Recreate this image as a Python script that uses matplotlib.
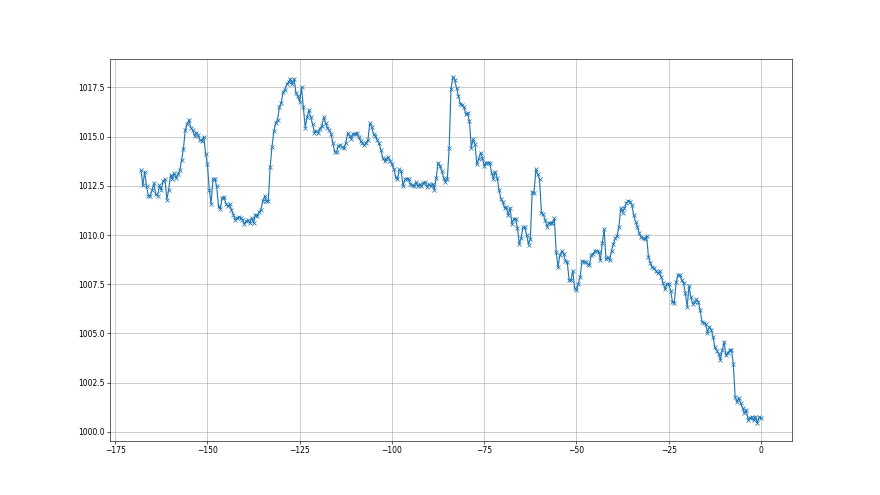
import numpy as np
import matplotlib
matplotlib.use("Agg")
import matplotlib.pyplot as plt

# hours relative to now, half-hour readings over the last week
hours = np.arange(-168, 0.5, 0.5)

pressure = [
    # -168.0 .. -140.5
    1013.28, 1012.52, 1013.20, 1012.48, 1012.00, 1012.00, 1012.28, 1012.62,
    1012.06, 1012.00, 1012.52, 1012.30, 1012.74, 1012.82, 1011.80, 1012.30,
    1013.03, 1012.86, 1013.13, 1012.90, 1013.08, 1013.28, 1013.80, 1014.39,
    1015.34, 1015.63, 1015.85, 1015.46, 1015.34, 1015.03, 1015.20, 1015.07,
    1014.81, 1014.78, 1015.00, 1014.13, 1013.59, 1012.31, 1011.58, 1012.82,
    1012.87, 1012.48, 1011.46, 1011.34, 1011.89, 1011.94, 1011.60, 1011.46,
    1011.55, 1011.29, 1011.04, 1010.78, 1010.87, 1010.92, 1010.87, 1010.78,
    # -140.0 .. -113.5
    1010.58, 1010.70, 1010.75, 1010.61, 1010.87, 1010.61, 1011.04, 1010.95,
    1011.16, 1011.29, 1011.72, 1011.97, 1011.72, 1011.72, 1013.47, 1014.49,
    1015.27, 1015.71, 1015.85, 1016.48, 1016.73, 1017.24, 1017.38, 1017.67,
    1017.76, 1017.93, 1017.67, 1017.93, 1017.21, 1017.04, 1016.77, 1017.50,
    1016.48, 1015.46, 1015.97, 1016.36, 1015.97, 1015.63, 1015.20, 1015.29,
    1015.17, 1015.41, 1015.54, 1015.97, 1015.71, 1015.46, 1015.34, 1015.12,
    1014.66, 1014.22, 1014.22, 1014.52, 1014.56, 1014.47,
    # -113.0 .. -86.5
    1014.40, 1014.69, 1015.17, 1015.03, 1014.90, 1015.15, 1015.12, 1015.20,
    1014.98, 1014.78, 1014.66, 1014.56, 1014.69, 1014.83, 1015.68, 1015.51,
    1015.12, 1015.03, 1014.83, 1014.66, 1014.32, 1013.93, 1013.76, 1013.88,
    1013.96, 1013.76, 1013.59, 1013.37, 1012.96, 1012.82, 1013.33, 1013.25,
    1012.48, 1012.82, 1012.87, 1012.86, 1012.57, 1012.52, 1012.48, 1012.69,
    1012.48, 1012.57, 1012.48, 1012.65, 1012.69, 1012.45, 1012.57, 1012.48,
    1012.61, 1012.31, 1012.91, 1013.67, 1013.50, 1013.25,
    # -86.0 .. -59.5
    1012.91, 1012.70, 1012.82, 1014.40, 1017.41, 1018.04, 1017.87, 1017.47,
    1017.07, 1016.68, 1016.62, 1016.51, 1016.14, 1016.22, 1015.77, 1014.44,
    1014.86, 1014.61, 1013.59, 1013.88, 1014.18, 1013.93, 1013.50, 1013.67,
    1013.67, 1013.67, 1013.16, 1012.87, 1013.21, 1012.91, 1012.31, 1011.85,
    1011.68, 1011.38, 1011.41, 1011.00, 1011.38, 1010.56, 1010.83, 1010.83,
    1010.36, 1009.54, 1009.85, 1010.39, 1010.39, 1010.02, 1009.51, 1009.81,
    1012.19, 1012.14, 1013.33, 1013.08, 1012.82, 1011.12,
    # -59.0 .. -31.0
    1011.05, 1010.77, 1010.43, 1010.63, 1010.60, 1010.63, 1010.85, 1009.15,
    1008.35, 1008.98, 1009.18, 1009.06, 1008.69, 1008.64, 1007.70, 1007.70,
    1008.18, 1007.33, 1007.19, 1007.53, 1007.87, 1008.69, 1008.64, 1008.64,
    1008.55, 1008.47, 1008.98, 1009.03, 1009.20, 1009.20, 1009.15, 1008.72,
    1009.61, 1010.29, 1008.76, 1008.86, 1008.72, 1009.20, 1009.54, 1009.83,
    1009.95, 1010.43, 1011.36, 1011.14, 1011.36, 1011.62, 1011.75, 1011.70,
    1011.53, 1011.02, 1010.68, 1010.43, 1010.09, 1009.88, 1009.83, 1009.78,
    1009.95,
    # -30.5 .. 0.0
    1008.90, 1008.60, 1008.35, 1008.32, 1008.18, 1008.06, 1008.15, 1007.86,
    1007.55, 1007.24, 1007.52, 1007.52, 1007.18, 1006.62, 1006.56, 1007.59,
    1007.98, 1007.98, 1007.72, 1007.55, 1007.04, 1006.36, 1007.41, 1006.84,
    1006.50, 1006.62, 1006.73, 1006.62, 1006.19, 1005.60, 1005.54, 1005.48,
    1005.03, 1005.34, 1005.20, 1004.83, 1004.29, 1004.12, 1003.98, 1003.67,
    1004.15, 1004.57, 1003.89, 1004.01, 1004.15, 1004.18, 1003.44, 1001.77,
    1001.51, 1001.73, 1001.46, 1001.22, 1000.95, 1001.12, 1000.61, 1000.71,
    1000.78, 1000.58, 1000.78, 1000.44, 1000.75, 1000.71,
]

assert len(pressure) == len(hours)

fig, ax = plt.subplots(figsize=(16, 9), dpi=55)
ax.plot(hours, pressure, marker="x")
ax.grid(True)

plt.savefig("out.png", dpi=55)
